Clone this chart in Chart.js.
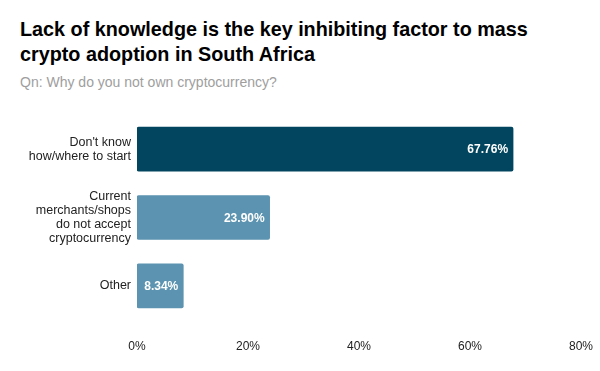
<!DOCTYPE html>
<html>
<head>
<meta charset="utf-8">
<script src="https://cdn.jsdelivr.net/npm/chart.js@4"></script>
<style>
  html, body { margin:0; padding:0; background:#fff; }
  body { width:600px; height:371px; position:relative; overflow:hidden; font-family:"Liberation Sans", Arial, sans-serif; }
  #title { position:absolute; left:20px; top:17px; font-weight:bold; font-size:19.8px; line-height:25px; color:#000; }
  #subtitle { position:absolute; left:20px; top:74px; font-size:14px; color:#9e9e9e; }
  #wrap { position:absolute; left:0; top:100px; width:600px; height:271px; }
</style>
</head>
<body>
<div id="title">Lack of knowledge is the key inhibiting factor to mass<br>crypto adoption in South Africa</div>
<div id="subtitle">Qn: Why do you not own cryptocurrency?</div>
<div id="wrap"><canvas id="c"></canvas></div>
<script>
const categories = [
  ["Don't know", "how/where to start"],
  ["Current", "merchants/shops", "do not accept", "cryptocurrency"],
  ["Other"]
];
const values = [67.76, 23.90, 8.34];
const valueLabels = ["67.76%", "23.90%", "8.34%"];
const barColors = ["#02455f", "#5b93b0", "#5b93b0"];
const xTicks = [0, 20, 40, 60, 80];

const valueLabelPlugin = {
  id: 'valueLabels',
  afterDatasetsDraw(chart) {
    const ctx = chart.ctx;
    const meta = chart.getDatasetMeta(0);
    ctx.save();
    ctx.font = 'bold 12px "Liberation Sans", Arial, sans-serif';
    ctx.fillStyle = '#ffffff';
    ctx.textAlign = 'right';
    ctx.textBaseline = 'middle';
    meta.data.forEach((bar, i) => {
      ctx.fillText(valueLabels[i], bar.x - 5, bar.y + 1);
    });
    ctx.restore();
  }
};

new Chart(document.getElementById('c'), {
  type: 'bar',
  data: {
    labels: categories,
    datasets: [{
      data: values,
      backgroundColor: barColors,
      borderRadius: 2,
      borderSkipped: false,
      barThickness: 44
    }]
  },
  options: {
    indexAxis: 'y',
    responsive: true,
    maintainAspectRatio: false,
    animation: false,
    layout: { padding: { top: 15, right: 19, left: 0, bottom: 0 } },
    plugins: { legend: { display: false }, tooltip: { enabled: false } },
    scales: {
      x: {
        min: 0, max: 80,
        grid: { display: false, drawTicks: false },
        border: { display: false },
        afterBuildTicks(scale) { scale.ticks = xTicks.map(v => ({ value: v })); },
        afterFit(scale) { scale.height = 51; scale.paddingLeft = 0; scale.paddingRight = 0; },
        ticks: {
          padding: 19,
          color: '#222',
          font: { family: '"Liberation Sans", Arial, sans-serif', size: 12 },
          callback: v => v + '%'
        }
      },
      y: {
        grid: { display: false, drawTicks: false },
        border: { display: false },
        afterFit(scale) { scale.width = 137; scale.paddingTop = 0; scale.paddingBottom = 0; },
        ticks: {
          padding: 6,
          color: '#222',
          font: { family: '"Liberation Sans", Arial, sans-serif', size: 12.5, lineHeight: 1.12 }
        }
      }
    }
  },
  plugins: [valueLabelPlugin]
});
</script>
</body>
</html>
